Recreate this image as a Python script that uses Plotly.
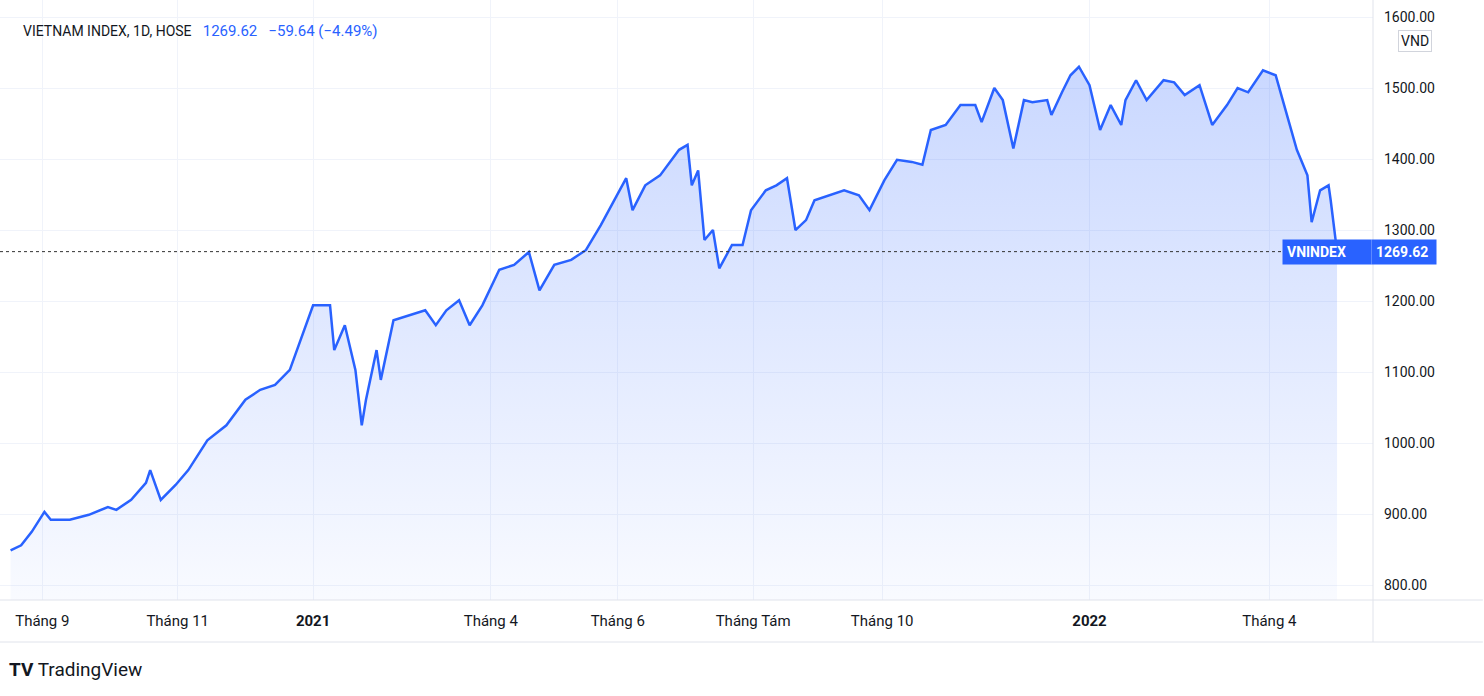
import plotly.graph_objects as go

dates = ["2020-08-17","2020-08-22","2020-08-27","2020-09-02","2020-09-05","2020-09-14","2020-09-23","2020-10-02","2020-10-06","2020-10-13","2020-10-20","2020-10-22","2020-10-27","2020-11-03","2020-11-09","2020-11-18","2020-11-27","2020-12-06","2020-12-13","2020-12-20","2020-12-27",
"2021-01-03","2021-01-07","2021-01-15","2021-01-17","2021-01-22","2021-01-27","2021-01-30","2021-02-01","2021-02-06","2021-02-08","2021-02-14","2021-02-21","2021-03-01","2021-03-06","2021-03-11","2021-03-17","2021-03-22","2021-03-28","2021-04-05","2021-04-12","2021-04-19","2021-04-24","2021-05-01","2021-05-09","2021-05-16","2021-05-23","2021-05-28","2021-06-04","2021-06-07","2021-06-13","2021-06-20","2021-06-29","2021-07-03","2021-07-05","2021-07-08","2021-07-11","2021-07-15","2021-07-18","2021-07-24","2021-07-29","2021-08-02","2021-08-09","2021-08-14","2021-08-19","2021-08-23","2021-08-28","2021-09-01","2021-09-08","2021-09-15","2021-09-22","2021-09-27","2021-10-04","2021-10-10","2021-10-17","2021-10-22","2021-10-26","2021-11-02","2021-11-09","2021-11-16","2021-11-19","2021-11-25","2021-11-29","2021-12-04","2021-12-09","2021-12-13","2021-12-20","2021-12-22","2021-12-27","2021-12-31",
"2022-01-04","2022-01-09","2022-01-14","2022-01-19","2022-01-24","2022-01-26","2022-01-31","2022-02-05","2022-02-13","2022-02-18","2022-02-23","2022-03-02","2022-03-08","2022-03-15","2022-03-20","2022-03-25","2022-04-01","2022-04-07","2022-04-11","2022-04-17","2022-04-22","2022-04-24","2022-04-28","2022-05-02","2022-05-03","2022-05-06"]
values = [849,856,875,903,892,892,899,910,906,920,944,962,920,941,962,1004,1025,1061,1075,1082,1103,
1159,1194,1194,1131,1166,1103,1025,1061,1131,1089,1173,1180,1187,1166,1187,1201,1166,1194,1244,1251,1269,1215,1251,1258,1272,1307,1335,1373,1328,1363,1377,1413,1420,1363,1384,1286,1300,1246,1279,1279,1328,1356,1363,1373,1300,1314,1342,1349,1356,1349,1328,1370,1399,1396,1392,1441,1448,1476,1476,1452,1500,1483,1415,1483,1480,1483,1462,1494,1518,
1530,1504,1441,1476,1448,1483,1511,1483,1511,1508,1490,1504,1448,1476,1500,1494,1525,1518,1476,1413,1377,1311,1356,1363,1342,1269.62]

tick_dates = ["2020-09-01","2020-11-04","2021-01-07","2021-04-01","2021-05-31","2021-08-03","2021-10-03","2022-01-09","2022-04-04"]
tick_text = ["Tháng 9","Tháng 11","<b>2021</b>","Tháng 4","Tháng 6","Tháng Tám","Tháng 10","<b>2022</b>","Tháng 4"]
y_ticks = [800,900,1000,1100,1200,1300,1400,1500,1600]
last = values[-1]
base = 779
blue = "#2962ff"

fig = go.Figure()
fig.add_trace(go.Scatter(x=dates, y=[base]*len(dates), mode="lines", line=dict(width=0), hoverinfo="skip", showlegend=False))
fig.add_trace(go.Scatter(x=dates, y=values, mode="lines", line=dict(color=blue, width=2.5), fill="tonexty",
    fillgradient=dict(type="vertical", colorscale=[[0,"rgba(41,98,255,0.03)"],[1,"rgba(41,98,255,0.25)"]]),
    showlegend=False))

fig.add_shape(type="line", xref="paper", yref="y", x0=0, x1=1, y0=last, y1=last, line=dict(color="#333", width=1, dash="dot"))
fig.add_shape(type="line", xref="paper", yref="paper", x0=0, x1=1.08, y0=0, y1=0, line=dict(color="#e0e3eb", width=1))
fig.add_shape(type="line", xref="paper", yref="paper", x0=0, x1=1.08, y0=-0.07, y1=-0.07, line=dict(color="#e0e3eb", width=1))
fig.add_shape(type="line", xref="paper", yref="paper", x0=1, x1=1, y0=-0.07, y1=1, line=dict(color="#e0e3eb", width=1))

fig.add_annotation(xref="paper", yref="y", x=1, y=last, xanchor="right", text="<b>VNINDEX</b>      ", showarrow=False,
    font=dict(color="white", size=14, family="Roboto"), bgcolor=blue, borderpad=4, xshift=-1)
fig.add_annotation(xref="paper", yref="y", x=1, y=last, xanchor="left", text="<b>%.2f</b> " % last, showarrow=False,
    font=dict(color="white", size=14, family="Roboto"), bgcolor=blue, borderpad=4, xshift=-2)
fig.add_annotation(xref="paper", yref="paper", x=0.015, y=0.967, xanchor="left", yanchor="top", showarrow=False,
    text="<span style='color:#131722;font-size:14px'>VIETNAM INDEX, 1D, HOSE</span>&nbsp;&nbsp;&nbsp;<span style='color:#2962ff'>%.2f&nbsp;&nbsp;&nbsp;−59.64&nbsp;(−4.49%%)</span>" % last,
    font=dict(size=15, family="Roboto"))
fig.add_annotation(xref="paper", yref="paper", x=1.043, y=0.95, showarrow=False, text="VND",
    font=dict(size=14, family="Roboto", color="#131722"), bordercolor="#d1d4dc", borderwidth=1, borderpad=2, bgcolor="white")
fig.add_annotation(xref="paper", yref="paper", x=0.005, y=-0.115, xanchor="left", yanchor="middle", showarrow=False,
    text="<b>TV</b> TradingView", font=dict(size=19, family="Roboto", color="#131722"))

fig.update_layout(
    width=1484, height=696, margin=dict(l=0, r=111, t=0, b=96),
    paper_bgcolor="white", plot_bgcolor="white",
    font=dict(family="Roboto", color="#131722", size=15),
    xaxis=dict(range=["2020-08-12","2022-05-23"], tickvals=tick_dates, ticktext=tick_text, showgrid=True,
               gridcolor="#f0f3fa", ticks="", zeroline=False, showline=False, ticklabelstandoff=10),
    yaxis=dict(range=[base, 1624], side="right", tickvals=y_ticks, ticktext=["%.2f" % v for v in y_ticks],
               gridcolor="#f0f3fa", zeroline=False, ticks="", ticklabelstandoff=10, tickfont=dict(size=14)),
    hovermode=False,
)
fig.write_html("out.html", config={"displayModeBar": False}, post_script="document.body.style.margin='0';")
